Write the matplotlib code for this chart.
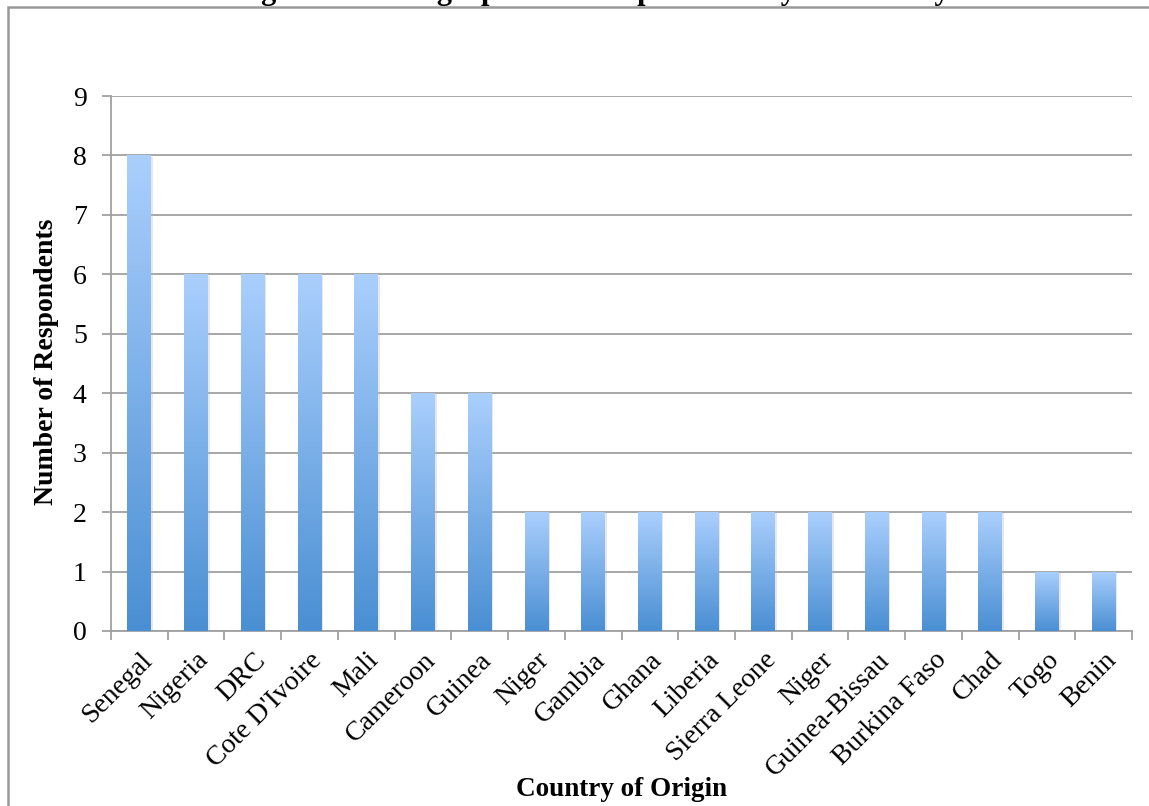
import numpy as np
import matplotlib
matplotlib.use('Agg')
import matplotlib.pyplot as plt
from matplotlib.colors import LinearSegmentedColormap
from matplotlib.patches import Rectangle

# Dati
countries = ['Senegal', 'Nigeria', 'DRC', "Cote D'Ivoire", 'Mali', 'Cameroon', 'Guinea',
             'Niger', 'Gambia', 'Ghana', 'Liberia', 'Sierra Leone', 'Niger', 'Guinea-Bissau',
             'Burkina Faso', 'Chad', 'Togo', 'Benin']
respondents = [8, 6, 6, 6, 6, 4, 4, 2, 2, 2, 2, 2, 2, 2, 2, 2, 1, 1]
y_ticks = list(range(0, 10))

title = 'Figure 1: Demographics of Respondents by Nationality'
x_label = 'Country of Origin'
y_label = 'Number of Respondents'

plt.rcParams['font.family'] = ['Liberation Serif', 'DejaVu Serif']

W, H = 1149, 806
fig = plt.figure(figsize=(W / 100, H / 100), dpi=100)
ax = fig.add_axes([111 / W, 1 - 631 / H, 1021 / W, 535 / H])

# Gradiente per ogni barra (chiaro in alto, scuro in basso)
cmap = LinearSegmentedColormap.from_list('bluegrad', ['#4a8fd3', '#aacffd'])
grad = np.linspace(0, 1, 256).reshape(-1, 1)

x = np.arange(len(countries))
bars = ax.bar(x, respondents, width=0.42, color='none', edgecolor='none', zorder=3)
for b in bars:
    bx, by = b.get_x(), b.get_y()
    w, h = b.get_width(), b.get_height()
    # ombra leggera
    sh = Rectangle((bx + 0.03, by), w, h - 0.02, facecolor='#bbbbbb', alpha=0.35,
                   edgecolor='none', zorder=2)
    ax.add_patch(sh)
    im = ax.imshow(grad, extent=[bx, bx + w, by, by + h], origin='lower', cmap=cmap,
                   aspect='auto', zorder=3)
    im.set_clip_path(b)

ax.set_xlim(-0.5, len(countries) - 0.5)
ax.set_ylim(0, 9)
ax.set_yticks(y_ticks)
ax.set_yticklabels([str(t) for t in y_ticks], fontsize=20)
ax.grid(axis='y', color='#a0a0a0', linewidth=1.3, zorder=0)
ax.set_axisbelow(True)

# tick tra le categorie
ax.set_xticks(np.arange(-0.5, len(countries), 1.0))
ax.set_xticklabels([])
ax.set_xticks(x, minor=True)
ax.set_xticklabels(countries, minor=True, rotation=45, ha='right', va='top',
                   rotation_mode='anchor', fontsize=20)
ax.tick_params(axis='x', which='minor', length=0, pad=12)
ax.tick_params(axis='x', which='major', length=6.5, width=1.3, color='#a0a0a0')
ax.tick_params(axis='y', length=6.5, width=1.3, color='#a0a0a0', pad=11)

for s in ['top', 'right']:
    ax.spines[s].set_visible(False)
for s in ['left', 'bottom']:
    ax.spines[s].set_color('#a0a0a0')
    ax.spines[s].set_linewidth(1.3)

fig.text(47 / W, 1 - 362 / H, y_label, fontsize=20, fontweight='bold', rotation=90,
         ha='center', va='center')
fig.text(622 / W, 1 - 790 / H, x_label, fontsize=19.5, fontweight='bold', ha='center', va='center')

# titolo tagliato in alto come nell'originale
fig.text(592 / W, 1 + 9 / H, title, fontsize=22, fontweight='bold', ha='center', va='center')

# cornice esterna
frame = Rectangle((8 / W, -0.05), 1.2, 1 - 7 / H + 0.05, transform=fig.transFigure,
                  fill=False, edgecolor='#999999', linewidth=1.8)
fig.patches.append(frame)

fig.savefig('out.png', dpi=100)
